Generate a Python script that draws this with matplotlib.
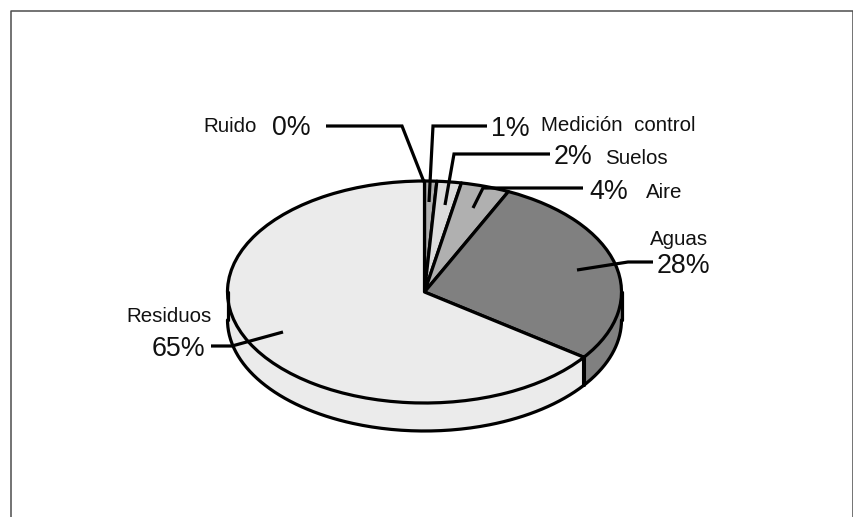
import numpy as np
import matplotlib
matplotlib.use("Agg")
import matplotlib.pyplot as plt

plt.rcParams['font.family'] = ['Liberation Sans', 'DejaVu Sans']

# Shares per category, clockwise from twelve o'clock
categories = ["Ruido", "Medición  control", "Suelos", "Aire", "Aguas", "Residuos"]
shares = [0, 1, 2, 4, 28, 65]
face_colors = ["#b4b4b4", "#b0b0b0", "#dcdcdc", "#b0b0b0", "#808080", "#ebebeb"]

W, H = 854, 517
CX, CY = 424.5, 292.0   # pie centre in pixels
RX, RY = 197.0, 111.0   # ellipse radii in pixels
DEPTH = 28.0            # wall height in pixels
LW = 2.3


def px(x, y):
    """Figure pixel position to pie data units."""
    return (np.asarray(x, float) - CX) / RX, (CY - np.asarray(y, float)) / RY


fig = plt.figure(figsize=(W / 100, H / 100), dpi=100, facecolor="white")
ax = fig.add_axes([0, 0, 1, 1])

# Side wall below the front half of the rim
depth_u = DEPTH / RY
edges = np.cumsum([0] + shares) / 100 * 360.0   # clockwise from the top
for i, color in enumerate(face_colors):
    a0, a1 = max(edges[i], 90.0), min(edges[i + 1], 270.0)
    if a1 <= a0:
        continue
    t = np.radians(np.linspace(a0, a1, 200))
    xs, ys = np.sin(t), np.cos(t)
    ax.fill(np.r_[xs, xs[::-1]], np.r_[ys, ys[::-1] - depth_u],
            facecolor=color, edgecolor="none", zorder=1)
    ax.plot(xs, ys - depth_u, color="black", lw=LW, zorder=2,
            solid_capstyle="round")
    for x_end, y_end, at_limit in ((xs[0], ys[0], a0 == 90.0), (xs[-1], ys[-1], a1 == 270.0)):
        ax.plot([x_end, x_end], [y_end, y_end - depth_u], color="black",
                lw=LW if at_limit else LW + 0.6, zorder=2, solid_capstyle="round")

# Top face
ax.pie(shares, colors=face_colors, startangle=90, counterclock=False, radius=1,
       wedgeprops=dict(edgecolor="black", linewidth=LW, joinstyle="round"))
ax.set_aspect("auto")
ax.set_xlim(px(0, 0)[0], px(W, 0)[0])
ax.set_ylim(px(0, H)[1], px(0, 0)[1])
ax.axis("off")

# Leader lines, in pixels
leaders = [
    ([326, 402, 424], [126, 126, 182]),
    ([487, 433, 429], [126, 126, 202]),
    ([550, 454, 445], [154, 154, 205]),
    ([583, 483, 473], [188, 188, 208]),
    ([653, 628, 577], [262, 262, 270]),
    ([211, 232, 283], [346, 346, 332]),
]
for lx, ly in leaders:
    dx, dy = px(lx, ly)
    ax.plot(dx, dy, color="black", lw=LW, zorder=6, solid_joinstyle="miter",
            solid_capstyle="butt")

# Labels: percentage and category name
BIG, SMALL = 19.3, 14.8
pct_pos = [(272, 128), (491, 129), (554, 157), (589, 192), (657, 266), (152, 349)]
name_pos = [(203, 126), (541, 125), (605, 158), (646, 192), (650, 239), (126, 317)]
for name, val, (pxx, pyy), (nx, ny) in zip(categories, shares, pct_pos, name_pos):
    x, y = px(pxx, pyy)
    ax.text(x, y, f"{val}%", fontsize=BIG, color="#111111", ha="left", va="center", zorder=7)
    x, y = px(nx, ny)
    ax.text(x, y, name, fontsize=SMALL, color="#111111", ha="left", va="center", zorder=7)

# Frame open at the bottom
fx = [10.5, 10.5, 852.5, 852.5]
fy = [517, 11, 11, 517]
fdx, fdy = px(fx, fy)
ax.plot(fdx, fdy, color="#4d4d4d", lw=1.1, zorder=8, clip_on=False)

fig.savefig("out.png", dpi=100, facecolor="white")
